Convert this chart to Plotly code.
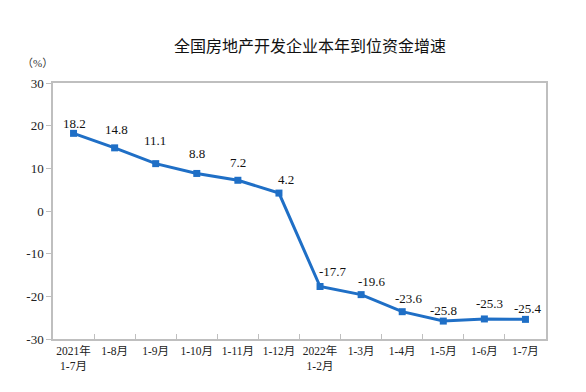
import plotly.graph_objects as go

categories = ["2021年<br>1-7月", "1-8月", "1-9月", "1-10月", "1-11月", "1-12月",
              "2022年<br>1-2月", "1-3月", "1-4月", "1-5月", "1-6月", "1-7月"]
values = [18.2, 14.8, 11.1, 8.8, 7.2, 4.2, -17.7, -19.6, -23.6, -25.8, -25.3, -25.4]
y_ticks = [30, 20, 10, 0, -10, -20, -30]

# label offsets in pixels (style only)
label_dx = [1, 2, -1, 0, 0, 7, 13, 11, 7, 0, 5, 3]
label_dy = [10, 18, 23, 20, 18, 14, 15, 13, 13, 11, 15, 11]

BLUE = "#1F6FC6"
SERIF = "Liberation Serif, Times New Roman, Noto Sans CJK SC, serif"
OFF = 8  # page body margin

fig = go.Figure()
fig.add_trace(go.Scatter(
    x=categories, y=values, mode="lines+markers",
    line=dict(color=BLUE, width=3),
    marker=dict(symbol="square", size=7, color=BLUE),
    hoverinfo="skip", showlegend=False,
))

for c, v, dx, dy in zip(categories, values, label_dx, label_dy):
    fig.add_annotation(x=c, y=v, text=f"{v:.1f}", showarrow=False,
                       xshift=dx, yshift=dy,
                       font=dict(family=SERIF, size=13, color="#111111"))

fig.update_layout(
    width=586, height=392,
    margin=dict(l=53 - OFF, r=40 + OFF, t=83 - OFF, b=53 + OFF, autoexpand=False),
    paper_bgcolor="white", plot_bgcolor="white",
    title=dict(text="全国房地产开发企业本年到位资金增速", x=(310 - OFF) / 586, xanchor="center",
               xref="container", y=1 - (46 - OFF) / 392, yanchor="middle",
               font=dict(family="Noto Sans CJK SC", size=16, color="#111111")),
)
fig.add_annotation(text="（%）", xref="paper", yref="paper", x=(37 - 53) / 493, y=(339 - 63) / 256,
                   xanchor="center", yanchor="middle", showarrow=False,
                   font=dict(family=SERIF, size=11, color="#333333"))

fig.update_xaxes(
    type="category", tickson="boundaries", ticks="inside", ticklen=5,
    tickcolor="#BFBFBF", showline=True, linecolor="#BFBFBF", linewidth=1.5,
    mirror=True, showgrid=False, zeroline=False, tickangle=0, automargin=False,
    tickfont=dict(family=SERIF, size=11.5, color="#222222"),
    range=[-0.5, len(categories) - 0.5],
)
fig.update_yaxes(
    range=[-30, 30], tickvals=y_ticks, ticktext=[str(t) for t in y_ticks],
    ticks="outside", ticklen=5, tickcolor="#BFBFBF", automargin=False,
    showline=True, linecolor="#BFBFBF", linewidth=1.5, mirror=True,
    showgrid=False, zeroline=False,
    tickfont=dict(family=SERIF, size=13, color="#222222"),
)

fig.write_html("out.html")
